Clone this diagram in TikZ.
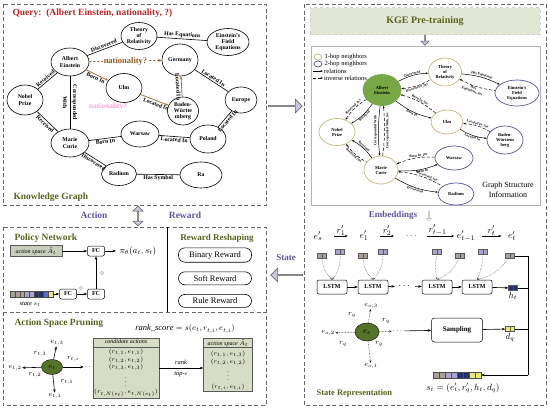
\documentclass[tikz,border=0pt]{standalone}
\usepackage{fontspec}
\setmainfont{Liberation Serif}
\usepackage{amsmath,amssymb}
\usepackage{xcolor}
\usepackage{tikz}
\usetikzlibrary{arrows.meta,positioning,shapes.geometric,shapes.arrows}

\definecolor{titleolive}{RGB}{88,98,28}
\definecolor{queryred}{RGB}{185,35,35}
\definecolor{natbrown}{RGB}{150,90,30}
\definecolor{edgebrown}{RGB}{165,115,55}
\definecolor{purp}{RGB}{98,82,160}
\definecolor{hollow}{RGB}{200,198,222}
\definecolor{hopone}{RGB}{200,180,120}
\definecolor{hoptwo}{RGB}{80,80,170}
\definecolor{aegreen}{RGB}{120,168,70}
\definecolor{esgreen}{RGB}{85,115,40}
\definecolor{boxgreen}{RGB}{214,220,198}
\definecolor{kgehead}{RGB}{226,230,212}
\definecolor{embrown}{RGB}{170,160,150}
\definecolor{emlav}{RGB}{168,164,204}
\definecolor{emnavy}{RGB}{38,48,110}
\definecolor{emyel}{RGB}{236,232,120}
\definecolor{emblue}{RGB}{90,110,190}

\begin{document}
\begin{tikzpicture}[x=1pt, y=-1pt,
    panel/.style={draw=gray!80!black, line width=0.9pt, dash pattern=on 4pt off 2.5pt},
    ptitle/.style={anchor=west, text=titleolive, font=\bfseries\fontsize{9.5}{10}\selectfont},
    ent/.style={ellipse, draw, line width=0.6pt, inner sep=0pt, align=center, font=\bfseries\fontsize{5.8}{6.2}\selectfont},
    rel/.style={sloped, inner sep=1pt, align=center, font=\bfseries\fontsize{5.8}{6.2}\selectfont},
    bent/.style={-{Stealth[length=3.5pt]}, edgebrown, line width=0.8pt},
    gent/.style={ellipse, draw=#1, line width=0.7pt, inner sep=0pt, align=center, font=\bfseries\fontsize{4.5}{5}\selectfont},
    grel/.style={-{Stealth[length=2.5pt]}, line width=0.5pt},
    grelr/.style={{Stealth[length=2.5pt]}-, line width=0.5pt},
    ginv/.style={grel, densely dashed},
    ginvr/.style={grelr, densely dashed},
    glab/.style={sloped, inner sep=0.3pt, align=center, font=\bfseries\fontsize{3.5}{3.8}\selectfont},
    hollowarr/.style={single arrow, draw=gray!70!black, fill=hollow, line width=0.5pt, minimum width=14, single arrow head extend=3, inner sep=0pt},
    vec/.style={draw=gray!70!black, fill=#1, line width=0.3pt, minimum width=9, minimum height=5, inner sep=0pt,
        path picture={\draw[gray!70!black, line width=0.3pt] (path picture bounding box.north) -- (path picture bounding box.south);}},
    cell/.style={draw=gray!60!black, fill=#1, line width=0.2pt, minimum width=4.7, minimum height=6, inner sep=0pt},
    lstm/.style={draw, rounded corners=2, line width=0.5pt, minimum width=30, minimum height=14, font=\bfseries\fontsize{6}{7}\selectfont},
    fcbox/.style={draw, rounded corners=2, line width=0.5pt, minimum width=17, minimum height=10, inner sep=0pt, font=\bfseries\fontsize{6}{7}\selectfont},
    rwd/.style={draw, rounded corners=6.5, line width=0.6pt, minimum width=73, minimum height=13, font=\fontsize{8.5}{9}\selectfont},
    seq/.style={inner sep=0.5pt, font=\fontsize{9.5}{10}\selectfont},
    seqarr/.style={-{Stealth[length=3pt]}, line width=1pt, shorten <=11pt, shorten >=11pt},
    small/.style={inner sep=0.5pt, font=\fontsize{7}{8}\selectfont},
    arr/.style={-{Stealth[length=3.5pt]}, line width=0.6pt},
    dotarr/.style={-{Stealth[length=2.5pt]}, densely dotted, line width=0.5pt, gray!60!black}
]
\useasboundingbox (0,0) rectangle (550,410);

\draw[panel] (3,4) rectangle (266,205);
\node[anchor=west, text=queryred, font=\bfseries\fontsize{9.5}{10}\selectfont] (query) at (9,13) {Query:\ \ (Albert Einstein, nationality, ?)};
\node[ent, minimum width=38, minimum height=28] (ae) at (70,62) {Albert\\Einstein};
\node[ent, minimum width=36, minimum height=27] (thr) at (139,36) {Theory\\of\\Relativity};
\node[ent, minimum width=42, minimum height=27] (fe) at (228,42) {Einstein's\\Field\\Equations};
\node[ent, minimum width=36, minimum height=32] (ger) at (180,60) {Germany};
\node[ent, minimum width=36, minimum height=29] (ulm) at (124,88) {Ulm};
\node[ent, minimum width=36, minimum height=30] (nob) at (25,100) {Nobel\\Prize};
\node[ent, minimum width=31, minimum height=28] (bw) at (183,111) {Baden-\\Württe\\mberg};
\node[ent, minimum width=32, minimum height=26] (eur) at (241,100) {Europe};
\node[ent, minimum width=38, minimum height=28] (mc) at (70,143) {Marie\\Curie};
\node[ent, minimum width=38, minimum height=26] (war) at (140,134) {Warsaw};
\node[ent, minimum width=36, minimum height=28] (pol) at (208,139) {Poland};
\node[ent, minimum width=35, minimum height=23] (rad) at (119,174) {Radium};
\node[ent, minimum width=42, minimum height=26] (ra) at (201,175) {Ra};
\node[text=magenta!35, font=\bfseries\fontsize{7.5}{8}\selectfont] (ghost) at (108,107) {nationality?};
\draw[line width=0.6pt] (ae) -- node[rel, above] {Discovered} (thr);
\draw[line width=0.6pt] (thr) -- node[rel, above] {Has Equations} (fe);
\draw[bent, natbrown, dash pattern=on 2pt off 2pt] (ae) -- node[fill=white, inner sep=1pt, text=natbrown, font=\bfseries\fontsize{8.5}{9}\selectfont] {nationality?} (ger);
\draw[bent] (ae) -- node[rel, below, text=black] {Born In} (ulm);
\draw[bent] (ulm) -- node[rel, below, text=black, pos=0.6] {Located In} (bw);
\draw[bent] (bw) -- node[rel, below, text=black] {Located In} (ger);
\draw[line width=0.6pt] (ger) -- node[rel, above] {Located In} (eur);
\draw[line width=0.6pt] (pol) -- node[rel, below] {Located In} (eur);
\draw[line width=0.6pt] (nob) -- node[rel, above] {Received} (ae);
\draw[line width=0.6pt] (nob) -- node[rel, below] {Received} (mc);
\draw[line width=0.6pt] (ae) -- node[rel, font=\bfseries\fontsize{5.8}{10}\selectfont] {Corresponded\\With} (mc);
\draw[line width=0.6pt] (mc) -- node[rel, below] {Born In} (war);
\draw[line width=0.6pt] (war) -- node[rel, below] {Located In} (pol);
\draw[line width=0.6pt] (mc) -- node[rel, below] {Discovered} (rad);
\draw[line width=0.6pt] (rad) -- node[rel, below] {Has Symbol} (ra);
\node[ptitle] (kgtitle) at (10,197) {Knowledge Graph};

\node[text=purp, font=\bfseries\fontsize{9.5}{10}\selectfont] (action) at (94,215) {Action};
\node[double arrow, draw=gray!70!black, fill=hollow, line width=0.5pt, rotate=90, minimum height=20, minimum width=10, double arrow head extend=2.5, inner sep=0pt] (actrew) at (138,216) {};
\node[text=purp, font=\bfseries\fontsize{9.5}{10}\selectfont] (reward) at (185,215) {Reward};

\draw[panel] (3,227) rectangle (266,405);
\draw[panel] (3,312) -- (266,312);
\draw[line width=0.6pt] (167,227) -- (167,312);
\node[ptitle] (pntitle) at (11,238) {Policy Network};
\node[draw=gray!70!black, fill=boxgreen!85!gray, minimum width=52, minimum height=11, inner sep=0pt, font=\itshape\fontsize{6}{7}\selectfont] (aspace) at (36,251) {action space $\tilde{A}_t$};
\node[fcbox] (fc1) at (96,251) {FC};
\node[anchor=west, font=\fontsize{9}{10}\selectfont] (pi) at (116,251) {$\pi_\theta(a_t,s_t)$};
\foreach \c [count=\i] in {embrown,embrown,embrown,emlav,emlav,emnavy,emnavy,emblue,emyel}
  \node[cell=\c] (sv\i) at ({8+4.7*\i},294) {};
\node[font=\itshape\fontsize{6.5}{7}\selectfont] (svlab) at (30,304) {state $s_t$};
\node[fcbox] (fc2) at (68,294) {FC};
\node[fcbox] (fc3) at (96,294) {FC};
\draw[arr] (aspace) -- (fc1);
\draw[arr] (fc1) -- (pi);
\draw[arr] (sv9) -- (fc2);
\draw[arr] (fc2) -- (fc3);
\draw[arr] (fc3) -- (fc1);
\node[circle, draw=gray!50, fill=gray!15, minimum size=3.5, inner sep=0pt] (drop1) at (81,288) {};
\node[circle, draw=gray!50, fill=gray!15, minimum size=3.5, inner sep=0pt] (drop2) at (102,273) {};

\node[text=titleolive, font=\bfseries\fontsize{9}{10}\selectfont] (rrtitle) at (217,238) {Reward Reshaping};
\node[rwd] (binr) at (215,255) {Binary Reward};
\node[rwd, below=9pt of binr] (softr) {Soft Reward};
\node[rwd, below=9pt of softr] (ruler) {Rule Reward};

\node[ptitle] (aptitle) at (11,323) {Action Space Pruning};
\node[font=\fontsize{8.5}{9}\selectfont] (rank) at (185,329) {$\mathit{rank\_score} = s(e_t, r_{t,i}, e_{t,i})$};
\node[ellipse, draw, fill=esgreen, minimum width=21, minimum height=15, inner sep=0pt, font=\fontsize{7}{8}\selectfont] (et) at (52,367) {$e_t$};
\node[small] (et3) at (57,343) {$e_{t,3}$};
\node[small] (et2) at (15,368) {$e_{t,2}$};
\node[small] (et1) at (55,396) {$e_{t,1}$};
\node[small] (etdots) at (90,367) {$\cdots$};
\draw[arr] (et) -- (et3);
\draw[arr] (et) -- (et2);
\draw[arr] (et) -- (et1);
\draw[arr] (et) -- (etdots);
\node[small] (rt3) at (40,354) {$r_{t,3}$};
\node[small] (rt2) at (35,375) {$r_{t,2}$};
\node[small] (rt1) at (67,382) {$r_{t,1}$};
\node[small] (rti) at (73,359) {$r_{t,i}$};
\node[draw=gray!70!black, fill=boxgreen, minimum width=52, minimum height=58, inner sep=1pt, align=center, font=\fontsize{6}{7.5}\selectfont] (cand) at (126,368)
  {{\itshape candidate actions}\\[3pt] $(r_{t,1},e_{t,1})$\\ $(r_{t,2},e_{t,2})$\\ $(r_{t,3},e_{t,3})$\\ $\vdots$\\ $(r_{t,N(e_t)},e_{t,N(e_t)})$};
\draw[gray!70!black, line width=0.4pt] ([yshift=-9]cand.north west) -- ([yshift=-9]cand.north east);
\node[draw=gray!70!black, fill=boxgreen, minimum width=49, minimum height=49, inner sep=1pt, align=center, font=\fontsize{6}{7.5}\selectfont] (aspb) at (228,365)
  {{\itshape action space} $\tilde{A}_t$\\[3pt] $(r_{t,1},e_{t,3})$\\ $(r_{t,2},e_{t,2})$\\ $\vdots$\\ $(r_{t,i},e_{t,i})$};
\draw[gray!70!black, line width=0.4pt] ([yshift=-9]aspb.north west) -- ([yshift=-9]aspb.north east);
\draw[arr, line width=0.4pt] (cand.east) -- node[above, font=\itshape\fontsize{6.5}{7}\selectfont] {rank} node[below, font=\itshape\fontsize{6.5}{7}\selectfont] {top-$\epsilon$} (cand.east -| aspb.west);

\node[hollowarr, minimum height=34] (toright) at (285,106) {};
\node[text=purp, font=\bfseries\fontsize{9}{10}\selectfont] (statelab) at (286,258) {State};
\node[hollowarr, minimum height=32, shape border rotate=180] (toleft) at (287,275) {};

\draw[panel] (304,4) rectangle (546,405);
\node[fill=kgehead, draw=gray!35, dashed, minimum width=230, minimum height=27, text=titleolive, font=\bfseries\fontsize{10}{11}\selectfont] (kge) at (425,21) {KGE Pre-training};
\node[hollowarr, minimum height=10, minimum width=8, single arrow head extend=2, rotate=-90] (kgedown) at (425,40) {};
\draw[gray!60, line width=0.7pt] (311,46) rectangle (540,205);

\node[ellipse, draw=hopone, line width=0.7pt, minimum width=8, minimum height=6, inner sep=0pt] (lg1) at (318,57) {};
\node[right=2pt of lg1, inner sep=0pt, font=\fontsize{6.5}{7}\selectfont] (lg1t) {1-hop neighbors};
\node[ellipse, draw=hoptwo, line width=0.7pt, minimum width=8, minimum height=6, inner sep=0pt] (lg2) at (318,64) {};
\node[right=2pt of lg2, inner sep=0pt, font=\fontsize{6.5}{7}\selectfont] (lg2t) {2-hop neighbors};
\coordinate (lg3a) at (313,71);
\coordinate (lg3b) at (323,71);
\draw[grel] (lg3a) -- (lg3b);
\node[right=1pt of lg3b, inner sep=0pt, font=\fontsize{6.5}{7}\selectfont] (lg3t) {relations};
\coordinate (lg4a) at (313,78);
\coordinate (lg4b) at (323,78);
\draw[ginv] (lg4a) -- (lg4b);
\node[right=1pt of lg4b, inner sep=0pt, font=\fontsize{6.5}{7}\selectfont] (lg4t) {inverse relations};

\node[gent=aegreen, fill=aegreen, minimum width=38, minimum height=31] (gae) at (382,90) {Albert\\Einstein};
\node[gent=hopone, minimum width=33, minimum height=28] (gthr) at (445,72) {Theory\\of\\Relativity};
\node[gent=hoptwo, minimum width=44, minimum height=26] (gfe) at (517,93) {Einstein's\\Field\\Equations};
\node[gent=hopone, minimum width=32, minimum height=24] (gulm) at (447,122) {Ulm};
\node[gent=hopone, minimum width=36, minimum height=27] (gnob) at (337,132) {Nobel\\Prize};
\node[gent=hoptwo, minimum width=36, minimum height=28] (gbw) at (505,140) {Baden-\\Württem\\berg};
\node[gent=hopone, minimum width=34, minimum height=28] (gmc) at (381,170) {Marie\\Curie};
\node[gent=hoptwo, minimum width=38, minimum height=24] (gwar) at (454,158) {Warsaw};
\node[gent=hoptwo, minimum width=36, minimum height=22] (grad) at (456,194) {Radium};
\draw[grel] (gae) to[bend left=12] node[glab, above] {Discovered} (gthr);
\draw[ginvr] (gae) to[bend right=12] node[glab, below] {Discovered\_inv} (gthr);
\draw[grel] (gthr) to[bend left=10] node[glab, above] {Has Equations} (gfe);
\draw[ginvr] (gthr) to[bend right=10] node[glab, below, pos=0.42] {Has\\Equations\_inv} (gfe);
\draw[ginv] (gulm) to[bend right=12] node[glab, above] {Born In\_inv} (gae);
\draw[grel] (gae) to[bend right=12] node[glab, below] {Born In} (gulm);
\draw[ginv] (gbw) to[bend right=12] node[glab, above] {Located In\_inv} (gulm);
\draw[grel] (gulm) to[bend right=12] node[glab, below] {Located In} (gbw);
\draw[ginvr] (gnob) to[bend left=12] node[glab, above] {Received\_inv} (gae);
\draw[grelr] (gnob) to[bend right=12] node[glab, below] {Received} (gae);
\draw[grelr] (gnob) to[bend left=12] node[glab, above] {Received} (gmc);
\draw[ginvr] (gnob) to[bend right=12] node[glab, below] {Received\_inv} (gmc);
\draw[grel] (gae) to[bend right=6] node[midway, anchor=south, rotate=90, inner sep=1pt, font=\bfseries\fontsize{3.5}{3.8}\selectfont] {Corresponded With} (gmc);
\draw[ginv] (gmc) to[bend right=6] node[midway, anchor=north, rotate=90, inner sep=1pt, font=\bfseries\fontsize{3.5}{3.8}\selectfont] {Corresponded With\_inv} (gae);
\draw[ginvr] (gmc) to[bend left=12] node[glab, above, pos=0.6] {Born In\_inv} (gwar);
\draw[grel] (gmc) to[bend right=12] node[glab, below, pos=0.6] {Born In} (gwar);
\draw[ginvr] (gmc) to[bend left=12] node[glab, above, pos=0.62] {Discovered\_inv} (grad);
\draw[grel] (gmc) to[bend right=12] node[glab, below, pos=0.5] {Discovered} (grad);
\node[align=center, font=\fontsize{8}{9.5}\selectfont] (gsi) at (508,190) {Graph Structure\\Information};

\node[text=purp, font=\bfseries\fontsize{9}{10}\selectfont] (emb) at (393,215) {Embeddings};
\node[single arrow, draw=gray!60, fill=white, line width=0.5pt, rotate=-90, minimum height=10, minimum width=5, single arrow head extend=2, inner sep=0pt] (embdown) at (429,216) {};

\node[seq] (qes) at (318,236) {$e'_s$};
\node[seq] (qe1) at (364,236) {$e'_1$};
\node[seq] (qdots) at (412,236) {$\cdots$};
\node[seq] (qet1) at (466,236) {$e'_{t-1}$};
\node[seq] (qet) at (512,236) {$e'_t$};
\draw[seqarr] (qes) -- node[above=-0.5pt, seq] {$r'_1$} (qe1);
\draw[seqarr] (qe1) -- node[above=-0.5pt, seq] {$r'_2$} (qdots);
\draw[seqarr, shorten <=8pt, shorten >=2pt] (qdots) -- node[above=-0.5pt, seq] {$r'_{t-1}$} (qet1);
\draw[seqarr, shorten <=6pt, shorten >=6pt] (qet1) -- node[above=-0.5pt, seq] {$r'_t$} (qet);
\node[vec=embrown] (ves) at (322,256) {};
\node[vec=emlav] (vr1) at (340,252) {};
\node[vec=embrown] (ve1) at (363,256) {};
\node[vec=emlav] (vr2) at (383,252) {};
\node[vec=emlav] (vrt1) at (437,252) {};
\node[vec=embrown] (vet1) at (460,256) {};
\node[vec=emlav] (vrt) at (483,252) {};
\node[vec=embrown] (vet) at (510,256) {};

\node[lstm] (l1) at (332,287) {LSTM};
\node[lstm] (l2) at (373,287) {LSTM};
\node (ldots) at (405,286) {$\cdots$};
\node[lstm] (l3) at (437,287) {LSTM};
\node[lstm] (l4) at (477,287) {LSTM};
\node[vec=emnavy] (ht) at (513,288) {};
\node[below=1pt of ht, inner sep=0pt, font=\fontsize{9}{10}\selectfont] (htlab) {$h_t$};
\draw[arr] (l1) -- (l2);
\draw[arr] (l2) -- (ldots);
\draw[arr] (ldots) -- (l3);
\draw[arr] (l3) -- (l4);
\draw[arr] (l4) -- (ht);
\draw[dotarr] (ves) to[bend right=20] (l1.north);
\draw[dotarr] (vr1) to[bend left=20] (l1.north);
\draw[dotarr] (ve1) to[bend right=20] (l2.north);
\draw[dotarr] (vr2) to[bend left=20] (l2.north);
\draw[dotarr] (vrt1) to[bend right=10] (l3.north);
\draw[dotarr] (vet1) to[bend left=20] (l3.north);
\draw[dotarr] (vrt) to[bend left=10] (l4.north);
\draw[dotarr] (vet) to[bend left=20] (l4.north);

\node[ellipse, draw, fill=esgreen, minimum width=24, minimum height=18, inner sep=0pt, font=\fontsize{8}{9}\selectfont] (ses) at (367,332) {$e_s$};
\node[small] (eo3) at (371,306) {$e_{o,3}$};
\node[small] (eo2) at (328,333) {$e_{o,2}$};
\node[small] (eo1) at (371,366) {$e_{o,1}$};
\node[small] (sdots) at (398,331) {$\cdots$};
\draw[dotarr, black] (ses) -- (eo3);
\draw[dotarr, black] (ses) -- (eo2);
\draw[dotarr, black] (ses) -- (eo1);
\draw[dotarr, black] (ses) -- (sdots);
\node[small] (rq1) at (352,315) {$r_q$};
\node[small] (rq2) at (386,321) {$r_q$};
\node[small] (rq3) at (343,344) {$r_q$};
\node[small] (rq4) at (379,344) {$r_q$};
\node[draw, rounded corners=3, line width=0.5pt, minimum width=51, minimum height=24, font=\bfseries\fontsize{7}{8}\selectfont] (samp) at (457,330) {Sampling};
\draw[arr] (sdots) -- (samp);
\node[vec=emyel] (dq) at (510,329) {};
\node[below=1pt of dq, inner sep=0pt, font=\fontsize{9}{10}\selectfont] (dqlab) {$d_q$};
\draw[arr] (samp) -- (dq);

\foreach \c [count=\i] in {embrown,embrown,emlav,emlav,emnavy,emnavy,emyel,emyel}
  \node[cell=\c, minimum width=6] (st\i) at ({430+6*\i},375) {};
\coordinate (bus1) at (528,256);
\coordinate (bus4) at (528,375);
\draw[line width=0.5pt] (vet.east) -- (bus1) -- (bus4);
\draw[line width=0.5pt] (ht.east) -- (ht.east -| bus1);
\draw[line width=0.5pt] (dq.east) -- (dq.east -| bus1);
\draw[arr, line width=0.5pt] (bus4) -- (st8.east);
\node[font=\fontsize{9}{10}\selectfont] (stf) at (463,388) {$s_t = (e'_t, r'_q, h_t, d_q)$};
\node[ptitle, font=\bfseries\fontsize{8.5}{9}\selectfont] (srtitle) at (313,393) {State Representation};
\end{tikzpicture}
\end{document}
